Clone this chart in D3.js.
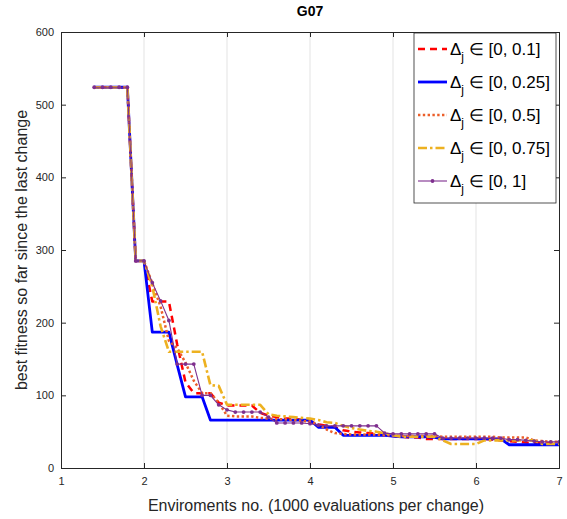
<!DOCTYPE html>
<html lang="en">
<head>
  <meta charset="utf-8">
  <title>G07</title>
  <script src="https://cdn.jsdelivr.net/npm/d3@7"></script>
  <style>
    body { margin: 0; background: #fff; }
    svg text { font-family: "Liberation Sans", Arial, sans-serif; fill: #262626; }
  </style>
</head>
<body>
  <svg id="chart" width="567" height="519"></svg>

  <script>
    // environments (x), sampled every 0.1
    var envs = d3.range(14, 71).map(function (d) { return d / 10; });

    // best fitness so far, one array per Delta_j range
    var d01 = [524, 524, 524, 524, 524, 285, 285, 229, 229, 229, 170, 118, 103, 103, 103, 90, 86, 86, 86, 86,
      76, 72, 70, 68, 68, 66, 64, 60, 58, 56, 52, 50, 49, 48, 47, 45, 44, 43, 42, 42,
      40, 40, 40, 40, 40, 40, 40, 40, 39, 38, 37, 36, 35, 34, 34, 34, 34];
    var d025 = [524, 524, 524, 524, 524, 285, 285, 187, 187, 187, 142, 98, 98, 98, 66, 66, 66, 66, 66, 66,
      66, 66, 66, 66, 66, 66, 66, 56, 56, 56, 45, 45, 45, 45, 45, 45, 44, 43, 43, 43,
      43, 42, 40, 40, 40, 40, 40, 40, 40, 40, 32, 32, 32, 32, 32, 32, 32];
    var d05 = [524, 524, 524, 524, 524, 285, 285, 254, 222, 175, 165, 145, 120, 103, 103, 90, 72, 71, 71, 71,
      69, 68, 67, 67, 66, 65, 64, 60, 53, 48, 47, 46, 46, 46, 46, 45, 45, 44, 44, 44,
      44, 44, 43, 43, 43, 43, 43, 43, 43, 42, 42, 42, 42, 38, 37, 36, 36];
    var d075 = [524, 524, 524, 524, 524, 285, 285, 250, 195, 160, 160, 160, 160, 160, 114, 113, 87, 87, 87, 87,
      87, 74, 72, 71, 70, 69, 68, 66, 63, 62, 58, 55, 53, 51, 50, 48, 45, 43, 43, 43,
      43, 43, 38, 33, 33, 33, 33, 38, 38, 38, 38, 38, 38, 38, 33, 33, 33];
    var d1 = [524, 524, 524, 524, 524, 285, 285, 255, 230, 203, 143, 143, 143, 100, 100, 87, 80, 77, 77, 77,
      77, 70, 62, 62, 62, 62, 61, 59, 58, 58, 58, 58, 58, 58, 58, 48, 47, 47, 47, 47,
      47, 47, 41, 41, 41, 41, 41, 41, 41, 41, 39, 39, 38, 37, 36, 36, 36];

    var seriesNames = ["[0, 0.1]", "[0, 0.25]", "[0, 0.5]", "[0, 0.75]", "[0, 1]"];
    var seriesValues = [d01, d025, d05, d075, d1];

    var xTicks = [1, 2, 3, 4, 5, 6, 7];
    var yTicks = [0, 100, 200, 300, 400, 500, 600];

    // line styles
    var styles = [
      { color: "#ff0000", width: 2.5, dash: "7,5", marker: false },
      { color: "#0000ff", width: 2.8, dash: null, marker: false },
      { color: "#ec5f2a", width: 2.5, dash: "2.4,2.4", marker: false },
      { color: "#edb120", width: 2.6, dash: "9,3,2.5,3", marker: false },
      { color: "#7e2f8e", width: 1.1, dash: null, marker: true }
    ];

    var margin = { left: 61, right: 8, top: 32, bottom: 51 };
    var width = 567, height = 519;

    var svg = d3.select("#chart");

    var x = d3.scaleLinear().domain([1, 7]).range([margin.left, width - margin.right]);
    var y = d3.scaleLinear().domain([0, 600]).range([height - margin.bottom, margin.top]);

    // vertical grid lines
    svg.append("g")
      .selectAll("line")
      .data(xTicks.slice(1, -1))
      .enter().append("line")
      .attr("x1", function (d) { return x(d); })
      .attr("x2", function (d) { return x(d); })
      .attr("y1", y(0))
      .attr("y2", y(600))
      .attr("stroke", "#e3e3e3")
      .attr("stroke-width", 1);

    // clip
    svg.append("clipPath").attr("id", "plot-clip")
      .append("rect")
      .attr("x", x(1)).attr("y", y(600))
      .attr("width", x(7) - x(1)).attr("height", y(0) - y(600));

    var line = d3.line()
      .x(function (d, i) { return x(envs[i]); })
      .y(function (d) { return y(d); });

    var plot = svg.append("g").attr("clip-path", "url(#plot-clip)");

    seriesValues.forEach(function (vals, k) {
      var st = styles[k];
      plot.append("path")
        .datum(vals)
        .attr("d", line)
        .attr("fill", "none")
        .attr("stroke", st.color)
        .attr("stroke-width", st.width)
        .attr("stroke-dasharray", st.dash)
        .attr("stroke-linejoin", "round");
      if (st.marker) {
        plot.append("g")
          .selectAll("circle")
          .data(vals)
          .enter().append("circle")
          .attr("cx", function (d, i) { return x(envs[i]); })
          .attr("cy", function (d) { return y(d); })
          .attr("r", 1.9)
          .attr("fill", st.color);
      }
    });

    // axes (box with inward ticks)
    var xAxis = d3.axisBottom(x).tickValues(xTicks).tickSize(-5).tickPadding(9).tickFormat(d3.format("d"));
    var yAxis = d3.axisLeft(y).tickValues(yTicks).tickSize(-5).tickPadding(7);

    var gx = svg.append("g").attr("transform", "translate(0," + y(0) + ")").call(xAxis);
    var gy = svg.append("g").attr("transform", "translate(" + x(1) + ",0)").call(yAxis);
    var gxTop = svg.append("g").attr("transform", "translate(0," + y(600) + ")")
      .call(d3.axisTop(x).tickValues(xTicks).tickSize(-5).tickFormat(""));
    var gyRight = svg.append("g").attr("transform", "translate(" + x(7) + ",0)")
      .call(d3.axisRight(y).tickValues(yTicks).tickSize(-5).tickFormat(""));

    [gx, gy, gxTop, gyRight].forEach(function (g) {
      g.select(".domain").attr("stroke", "#262626").attr("stroke-width", 1);
      g.selectAll(".tick line").attr("stroke", "#262626");
      g.selectAll("text").attr("font-size", 11).attr("fill", "#262626")
        .style("font-family", "'Liberation Sans', Arial, sans-serif");
    });

    // title
    svg.append("text")
      .attr("x", (x(1) + x(7)) / 2)
      .attr("y", 16)
      .attr("text-anchor", "middle")
      .attr("font-size", 14)
      .attr("font-weight", "bold")
      .style("fill", "#000")
      .text("G07");

    // axis labels
    svg.append("text")
      .attr("x", (x(1) + x(7)) / 2 + 6)
      .attr("y", 511)
      .attr("text-anchor", "middle")
      .attr("font-size", 16)
      .text("Enviroments no. (1000 evaluations per change)");

    svg.append("text")
      .attr("transform", "translate(27," + (y(300)) + ") rotate(-90)")
      .attr("text-anchor", "middle")
      .attr("font-size", 16)
      .text("best fitness so far since the last change");

    // legend
    var lg = svg.append("g").attr("transform", "translate(414,33)");
    lg.append("rect")
      .attr("width", 142).attr("height", 170)
      .attr("fill", "#fff")
      .attr("stroke", "#262626")
      .attr("stroke-width", 0.8);

    seriesNames.forEach(function (name, k) {
      var st = styles[k];
      var ly = 16 + k * 33;
      var row = lg.append("g").attr("transform", "translate(0," + ly + ")");
      row.append("line")
        .attr("x1", 4).attr("x2", 33)
        .attr("y1", 0).attr("y2", 0)
        .attr("stroke", st.color)
        .attr("stroke-width", st.width)
        .attr("stroke-dasharray", st.dash);
      if (st.marker) {
        row.append("circle").attr("cx", 18.5).attr("cy", 0).attr("r", 1.9).attr("fill", st.color);
      }
      var t = row.append("text")
        .attr("x", 36)
        .attr("y", 6)
        .attr("font-size", 17)
        .style("fill", "#000");
      t.append("tspan").text("\u0394");
      t.append("tspan").attr("font-size", 12).attr("dy", 6).text("j");
      t.append("tspan").attr("dy", -6).text(" \u2208 " + name);
    });
  </script>
</body>
</html>
